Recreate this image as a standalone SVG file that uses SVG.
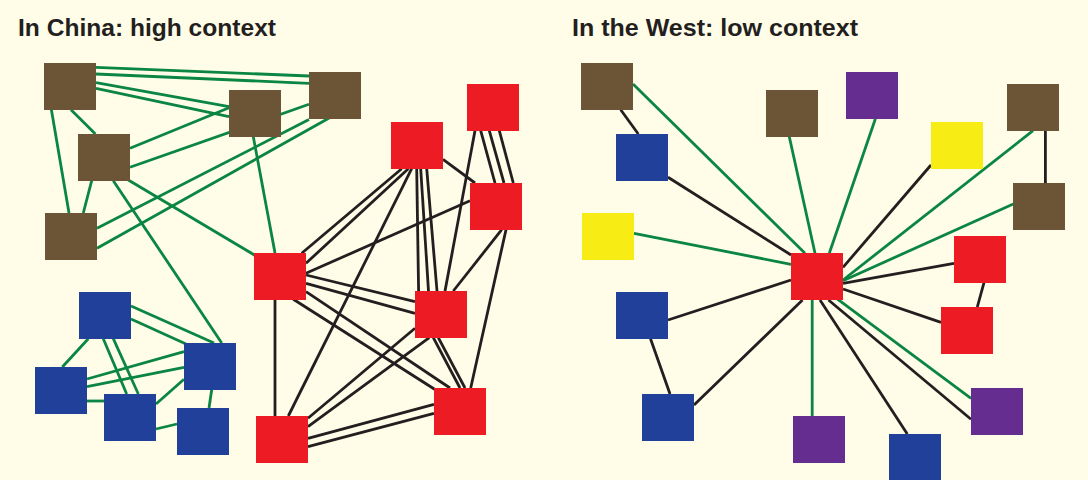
<svg xmlns="http://www.w3.org/2000/svg" width="1088" height="480" viewBox="0 0 1088 480">
  <style>
    .bg { fill: #FFFDE8; }
    .title { font-family: "Liberation Sans", Arial, sans-serif; font-weight: bold; font-size: 24px; fill: #231F20; }
    .n { width: 52px; height: 47px; }
    .brown { fill: #6B5536; }
    .red { fill: #ED1C24; }
    .blue { fill: #21409A; }
    .purple { fill: #662D91; }
    .yellow { fill: #F7EC13; }
    .g line { stroke: #0A8542; stroke-width: 2.8; }
    .k line { stroke: #231F20; stroke-width: 2.8; }
  </style>

  <rect class="bg" x="0" y="0" width="1088" height="480"/>

  <text class="title" x="18" y="36" textLength="258" lengthAdjust="spacingAndGlyphs">In China: high context</text>
  <text class="title" x="572" y="36" textLength="286" lengthAdjust="spacingAndGlyphs">In the West: low context</text>

  <!-- connectors, drawn beneath the squares -->
  <g id="connectors">
    <!-- left network: green ties -->
    <g class="g">
      <line x1="96" y1="67.3" x2="309" y2="76"/>
      <line x1="96" y1="74" x2="309" y2="83.3"/>
      <line x1="96" y1="82.7" x2="229" y2="106.7"/>
      <line x1="96" y1="88.3" x2="229" y2="116.7"/>
      <line x1="71" y1="109.7" x2="95.4" y2="134"/>
      <line x1="51.4" y1="109.7" x2="69" y2="213"/>
      <line x1="130" y1="148.3" x2="229" y2="107.7"/>
      <line x1="130" y1="167.3" x2="309" y2="104.3"/>
      <line x1="97" y1="228.3" x2="309" y2="119.5"/>
      <line x1="97" y1="248.3" x2="330" y2="117.5"/>
      <line x1="91.7" y1="180.7" x2="83.3" y2="213"/>
      <line x1="113.3" y1="180.7" x2="221.7" y2="343"/>
      <line x1="128.3" y1="180" x2="256" y2="256"/>
      <line x1="253.3" y1="136.7" x2="275" y2="253"/>
      <line x1="131" y1="306" x2="214" y2="343"/>
      <line x1="131" y1="319" x2="186" y2="344"/>
      <line x1="88.3" y1="338.7" x2="62.3" y2="367"/>
      <line x1="103.3" y1="338.7" x2="126.7" y2="394"/>
      <line x1="113.3" y1="338.7" x2="138.3" y2="394"/>
      <line x1="87" y1="379" x2="184" y2="351.7"/>
      <line x1="87" y1="386.7" x2="184" y2="367.3"/>
      <line x1="87" y1="401" x2="104" y2="401"/>
      <line x1="156" y1="404" x2="184" y2="379.3"/>
      <line x1="156" y1="429" x2="177" y2="424"/>
      <line x1="211.7" y1="389.7" x2="209" y2="408"/>
    </g>
    <!-- left network: black ties -->
    <g class="k">
      <line x1="475" y1="130.7" x2="445" y2="291"/>
      <line x1="480.7" y1="130.7" x2="495" y2="183"/>
      <line x1="489.3" y1="130.7" x2="504" y2="183"/>
      <line x1="499.3" y1="130.7" x2="513.3" y2="183"/>
      <line x1="443" y1="159.3" x2="475" y2="183"/>
      <line x1="401.7" y1="168.7" x2="301.7" y2="253.3"/>
      <line x1="408.3" y1="168.7" x2="306" y2="263.3"/>
      <line x1="411.7" y1="168.7" x2="288.3" y2="416"/>
      <line x1="416.7" y1="168.7" x2="418.6" y2="291"/>
      <line x1="420.7" y1="168.7" x2="428.5" y2="291"/>
      <line x1="426.7" y1="168.7" x2="437" y2="291"/>
      <line x1="501.7" y1="229.7" x2="453.3" y2="291"/>
      <line x1="506" y1="229.7" x2="470.7" y2="388"/>
      <line x1="306" y1="273.3" x2="470" y2="200.7"/>
      <line x1="306" y1="275" x2="415" y2="301.7"/>
      <line x1="306" y1="283.3" x2="415" y2="313.3"/>
      <line x1="293.3" y1="299.3" x2="435" y2="389.5"/>
      <line x1="306" y1="291.7" x2="450" y2="388"/>
      <line x1="275" y1="300" x2="275" y2="416"/>
      <line x1="308" y1="418.3" x2="415" y2="328.3"/>
      <line x1="308" y1="426.7" x2="429.3" y2="337.7"/>
      <line x1="308" y1="438.3" x2="434" y2="404.3"/>
      <line x1="308" y1="446.7" x2="434" y2="413.3"/>
      <line x1="433.3" y1="337.7" x2="460" y2="388"/>
      <line x1="438.3" y1="337.7" x2="465" y2="388"/>
    </g>
    <!-- right network: green ties -->
    <g class="g">
      <line x1="633" y1="84" x2="805" y2="253.3"/>
      <line x1="634" y1="233.3" x2="791" y2="264.3"/>
      <line x1="789.3" y1="136.7" x2="815" y2="253.3"/>
      <line x1="875.4" y1="118.7" x2="829.3" y2="253.3"/>
      <line x1="1033" y1="130.7" x2="843" y2="280"/>
      <line x1="1013.3" y1="204" x2="843" y2="280.7"/>
      <line x1="812.2" y1="300" x2="812.2" y2="416"/>
      <line x1="836.5" y1="298.3" x2="971" y2="398.3"/>
    </g>
    <!-- right network: black ties -->
    <g class="k">
      <line x1="620.7" y1="109.7" x2="638.3" y2="134"/>
      <line x1="668" y1="177.3" x2="791" y2="255"/>
      <line x1="931" y1="165" x2="843" y2="267.3"/>
      <line x1="1045.4" y1="130.7" x2="1045.4" y2="183"/>
      <line x1="954" y1="263.3" x2="843" y2="283.3"/>
      <line x1="984" y1="282.7" x2="977.3" y2="307"/>
      <line x1="843" y1="289" x2="941" y2="322.3"/>
      <line x1="668" y1="320" x2="791" y2="280"/>
      <line x1="650.5" y1="338.7" x2="670" y2="394"/>
      <line x1="694" y1="405" x2="802.5" y2="300"/>
      <line x1="820" y1="300" x2="907.3" y2="434"/>
      <line x1="828.5" y1="300" x2="971" y2="419.3"/>
    </g>
  </g>

  <!-- left network squares -->
  <g id="cn-brown-1"><rect class="n brown" x="44" y="63" width="52" height="47"/></g>
  <g id="cn-brown-2"><rect class="n brown" x="309" y="72" width="52" height="47"/></g>
  <g id="cn-brown-3"><rect class="n brown" x="229" y="90" width="52" height="47"/></g>
  <g id="cn-brown-4"><rect class="n brown" x="78" y="134" width="52" height="47"/></g>
  <g id="cn-brown-5"><rect class="n brown" x="45" y="213" width="52" height="47"/></g>
  <g id="cn-red-hub"><rect class="n red" x="254" y="253" width="52" height="47"/></g>
  <g id="cn-red-2"><rect class="n red" x="391" y="122" width="52" height="47"/></g>
  <g id="cn-red-3"><rect class="n red" x="467" y="84" width="52" height="47"/></g>
  <g id="cn-red-4"><rect class="n red" x="470" y="183" width="52" height="47"/></g>
  <g id="cn-red-5"><rect class="n red" x="415" y="291" width="52" height="47"/></g>
  <g id="cn-red-6"><rect class="n red" x="434" y="388" width="52" height="47"/></g>
  <g id="cn-red-7"><rect class="n red" x="256" y="416" width="52" height="47"/></g>
  <g id="cn-blue-1"><rect class="n blue" x="79" y="292" width="52" height="47"/></g>
  <g id="cn-blue-2"><rect class="n blue" x="184" y="343" width="52" height="47"/></g>
  <g id="cn-blue-3"><rect class="n blue" x="35" y="367" width="52" height="47"/></g>
  <g id="cn-blue-4"><rect class="n blue" x="104" y="394" width="52" height="47"/></g>
  <g id="cn-blue-5"><rect class="n blue" x="177" y="408" width="52" height="47"/></g>

  <!-- right network squares -->
  <g id="w-brown-1"><rect class="n brown" x="581" y="63" width="52" height="47"/></g>
  <g id="w-blue-1"><rect class="n blue" x="616" y="134" width="52" height="47"/></g>
  <g id="w-brown-2"><rect class="n brown" x="766" y="90" width="52" height="47"/></g>
  <g id="w-purple-1"><rect class="n purple" x="846" y="72" width="52" height="47"/></g>
  <g id="w-yellow-1"><rect class="n yellow" x="931" y="122" width="52" height="47"/></g>
  <g id="w-brown-3"><rect class="n brown" x="1007" y="84" width="52" height="47"/></g>
  <g id="w-brown-4"><rect class="n brown" x="1013" y="183" width="52" height="47"/></g>
  <g id="w-yellow-2"><rect class="n yellow" x="582" y="213" width="52" height="47"/></g>
  <g id="w-red-hub"><rect class="n red" x="791" y="253" width="52" height="47"/></g>
  <g id="w-red-2"><rect class="n red" x="954" y="236" width="52" height="47"/></g>
  <g id="w-red-3"><rect class="n red" x="941" y="307" width="52" height="47"/></g>
  <g id="w-blue-2"><rect class="n blue" x="616" y="292" width="52" height="47"/></g>
  <g id="w-blue-3"><rect class="n blue" x="642" y="394" width="52" height="47"/></g>
  <g id="w-purple-2"><rect class="n purple" x="971" y="388" width="52" height="47"/></g>
  <g id="w-purple-3"><rect class="n purple" x="793" y="416" width="52" height="47"/></g>
  <g id="w-blue-4"><rect class="n blue" x="889" y="434" width="52" height="47"/></g>
</svg>
